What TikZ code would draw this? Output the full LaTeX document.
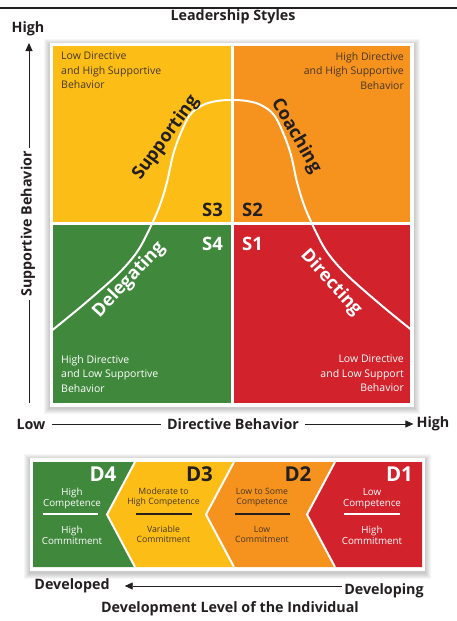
\documentclass[tikz,border=0pt]{standalone}
\usepackage{fontspec}
\setmainfont{Open Sans}
\usetikzlibrary{arrows.meta}
\definecolor{qyellow}{RGB}{252,190,22}
\definecolor{qorange}{RGB}{246,146,30}
\definecolor{qgreen}{RGB}{64,136,60}
\definecolor{qred}{RGB}{210,34,44}
\definecolor{ink}{RGB}{35,31,32}
\definecolor{softink}{RGB}{70,55,40}
\begin{document}
\begin{tikzpicture}[x=1pt,y=-1pt,
  axislbl/.style={font=\fontsize{14.3}{16}\selectfont\bfseries, text=ink, inner sep=2pt},
  axisline/.style={draw=ink, line width=0.9pt},
  tip/.style={-{Triangle[length=8pt,width=7pt]}},
  corner/.style={font=\fontsize{10.5}{14.5}\selectfont, inner sep=0pt},
  style lbl/.style={font=\fontsize{18}{20}\selectfont\bfseries, inner sep=0pt},
  slbl/.style={font=\fontsize{18.5}{20}\selectfont\bfseries, inner sep=0pt},
  dlbl/.style={font=\fontsize{20.5}{22}\selectfont\bfseries, inner sep=0pt},
  bigtxt/.style={font=\fontsize{9.8}{11}\selectfont, align=center, inner sep=0pt},
  smalltxt/.style={font=\fontsize{8.7}{10}\selectfont, align=center, inner sep=0pt},
  sep/.style={line width=1.2pt},
  divider/.style={draw=white, line width=2pt, line join=miter}
]
\useasboundingbox (0,0) rectangle (457,621);
\fill[white] (0,0) rectangle (457,621);

% top rule and title
\coordinate (ruleL) at (0,8);
\coordinate (ruleR) at (457,8);
\draw[ink, line width=1.8pt] (ruleL) -- (ruleR);
\node[axislbl] (title) at (233,17) {Leadership Styles};

% vertical axis
\node[axislbl] (yhigh) at (28,29) {High};
\coordinate (ytop) at (29,43);
\coordinate (ybot) at (29,403);
\draw[axisline, tip] (ybot) -- (ytop);
\node[axislbl, fill=white, rotate=90, inner sep=3pt] (ylab) at (28,224) {Supportive Behavior};

% quadrant frame with soft shadow
\foreach \i in {1,...,6}{
  \fill[black, opacity=0.035] (49.5-\i,43.5-\i+1.5) rectangle (413.5+\i,406.5+\i+1.5);
}
\fill[white] (49.5,42.5) rectangle (413.5,406.5);
\fill[qyellow] (53,46) rectangle (230.5,221.5);
\fill[qorange] (233.5,46) rectangle (410,221.5);
\fill[qgreen] (53,224.5) rectangle (230.5,403);
\fill[qred] (233.5,224.5) rectangle (410,403);

% bell curve
\begin{scope}
\clip (53,46) rectangle (410,403);
\draw[white, line width=2pt] plot[smooth, tension=0.55] coordinates {
 (50,332) (83,305) (117,275) (137,252) (150,228) (160,205) (167,182) (173,155)
 (180,135) (190,115) (203,105) (217,101) (232,100)
 (247,101) (261,105) (274,115) (284,135) (291,155) (297,182) (304,205) (314,228)
 (327,252) (347,275) (381,305) (414,332)};
\end{scope}

% corner texts
\node[corner, text=softink, anchor=north west, align=left] (tl) at (61,52) {Low Directive\\and High Supportive\\Behavior};
\node[corner, text=softink, anchor=north east, align=right] (tr) at (404,52) {High Directive\\and High Supportive\\Behavior};
\node[corner, text=white, anchor=north west, align=left] (bl) at (61,355) {High Directive\\and Low Supportive\\Behavior};
\node[corner, text=white, anchor=north east, align=right] (br) at (404,355) {Low Directive\\and Low Support\\Behavior};

% style names
\node[style lbl, text=ink, rotate=54] (supp) at (166,138) {Supporting};
\node[style lbl, text=ink, rotate=-60] (coach) at (296,136) {Coaching};
\node[style lbl, text=white, rotate=47] (deleg) at (129,280) {Delegating};
\node[style lbl, text=white, rotate=-48] (direc) at (331,283) {Directing};

\node[slbl, text=ink] (s3) at (212.5,209.5) {S3};
\node[slbl, text=ink] (s2) at (252.5,209.5) {S2};
\node[slbl, text=white] (s4) at (212.5,243.5) {S4};
\node[slbl, text=white] (s1) at (252.5,243.5) {S1};

% horizontal axis
\node[axislbl] (xlow) at (31,424) {Low};
\node[axislbl] (xlab) at (233,424) {Directive Behavior};
\node[axislbl] (xhigh) at (433,424) {High};
\draw[axisline] ([xshift=4pt]xlow.east) -- ([xshift=-4pt]xlab.west);
\draw[axisline, tip] ([xshift=4pt]xlab.east) -- ([xshift=-1pt]xhigh.west);

% development level frame
\foreach \i in {1,...,6}{
  \fill[black, opacity=0.035] (30-\i,458-\i+1.5) rectangle (425+\i,571+\i+1.5);
}
\fill[white] (30,458) rectangle (425,571);
\fill[qgreen] (33,462) -- (135,462) -- (107,514.5) -- (135,567) -- (33,567) -- cycle;
\fill[qyellow] (135,462) -- (234,462) -- (206,514.5) -- (234,567) -- (135,567) -- (107,514.5) -- cycle;
\fill[qorange] (234,462) -- (335,462) -- (307,514.5) -- (335,567) -- (234,567) -- (206,514.5) -- cycle;
\fill[qred] (335,462) -- (422,462) -- (422,567) -- (335,567) -- (307,514.5) -- cycle;
\draw[divider] (135,462) -- (107,514.5) -- (135,567);
\draw[divider] (234,462) -- (206,514.5) -- (234,567);
\draw[divider] (335,462) -- (307,514.5) -- (335,567);

\node[dlbl, text=white] (d4) at (103,474.5) {D4};
\node[dlbl, text=ink] (d3) at (199.5,474.5) {D3};
\node[dlbl, text=ink] (d2) at (298,474.5) {D2};
\node[dlbl, text=white] (d1) at (399.5,474.5) {D1};

\node[bigtxt, text=white] (d4a) at (72,498.5) {High\\Competence};
\draw[white, sep] (43,514) -- (98,514);
\node[bigtxt, text=white] (d4b) at (72,535.5) {High\\Commitment};

\node[smalltxt, text=softink] (d3a) at (163.5,497.5) {Moderate to\\High Competence};
\draw[ink, sep] (136,514) -- (192,514);
\node[smalltxt, text=softink] (d3b) at (163.5,534) {Variable\\Commitment};

\node[smalltxt, text=softink] (d2a) at (262,497.5) {Low to Some\\Competence};
\draw[ink, sep] (235,514) -- (290,514);
\node[smalltxt, text=softink] (d2b) at (262,534) {Low\\Commitment};

\node[bigtxt, text=white] (d1a) at (372,498.5) {Low\\Competence};
\draw[white, sep] (344,514) -- (400,514);
\node[bigtxt, text=white] (d1b) at (372,535.5) {High\\Commitment};

% bottom axis
\node[axislbl] (dev) at (72,586) {Developed};
\node[axislbl] (deving) at (384,591) {Developing};
\coordinate (arrR) at (342,586);
\draw[axisline, tip] (arrR) -- ([xshift=13pt]dev.east);
\node[axislbl] (devlab) at (230,609) {Development Level of the Individual};
\end{tikzpicture}
\end{document}
